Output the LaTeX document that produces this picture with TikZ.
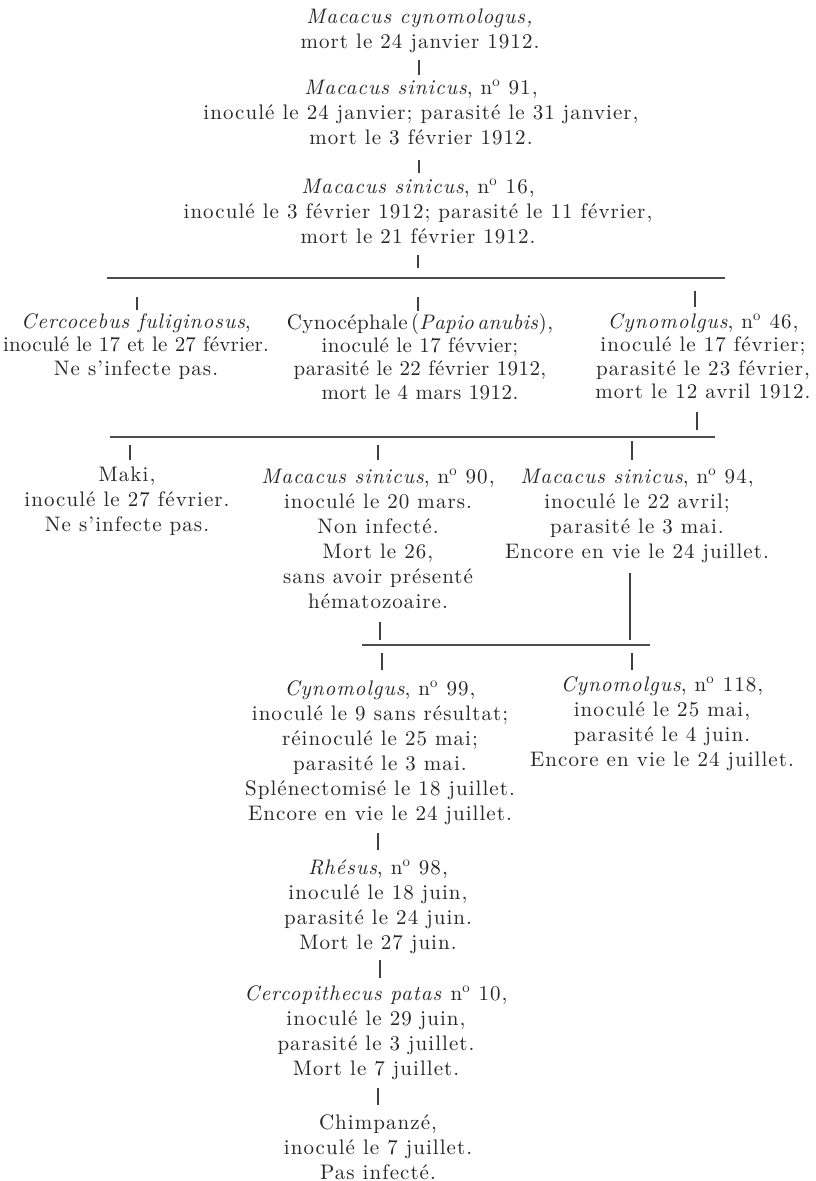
\documentclass[tikz,border=0pt]{standalone}
\usepackage{fontspec}
\setmainfont{lmroman10-regular.otf}[ItalicFont=lmroman10-italic.otf,BoldFont=lmroman10-bold.otf,BoldItalicFont=lmroman10-bolditalic.otf,LetterSpace=5]
\newcommand{\numo}{n\textsuperscript{o}}
\begin{document}
\begin{tikzpicture}[x=0.5pt,y=-0.5pt,
  txt/.style={align=center,inner sep=0pt,anchor=north,text=black!85,font=\fontsize{10.5}{12.5}\selectfont},
  tight/.style={txt,font=\fontsize{10.5}{11.7}\selectfont},
  narrow/.style={txt,font=\fontsize{10.5}{11.7}\selectfont\addfontfeatures{LetterSpace=2}},
  link/.style={draw=black!75,line width=0.7pt},
  rule/.style={draw=black!70,line width=0.6pt}]
\useasboundingbox[fill=white] (0,0) rectangle (815,1181);

% top chain
\node[txt] (a) at (420,9) {\textit{Macacus cynomologus,}\\mort le 24 janvier 1912.};
\node[txt] (b) at (421,80) {\textit{Macacus sinicus}, \numo{} 91,\\inoculé le 24 janvier; parasité le 31 janvier,\\mort le 3 février 1912.};
\node[txt] (c) at (418,179) {\textit{Macacus sinicus}, \numo{} 16,\\inoculé le 3 février 1912; parasité le 11 février,\\mort le 21 février 1912.};
\coordinate (t1a) at (419,60); \coordinate (t1b) at (419,75);
\coordinate (t2a) at (419,160); \coordinate (t2b) at (419,173);
\coordinate (t3a) at (418,255); \coordinate (t3b) at (418,268);
\draw[link] (t1a) -- (t1b);
\draw[link] (t2a) -- (t2b);
\draw[link] (t3a) -- (t3b);

% first branching
\coordinate (r1l) at (107,278); \coordinate (r1r) at (725,278);
\draw[rule] (r1l) -- (r1r);
\coordinate (u1a) at (137,297); \coordinate (u1b) at (137,310);
\coordinate (u2a) at (418,297); \coordinate (u2b) at (418,311);
\coordinate (u3a) at (695,291); \coordinate (u3b) at (695,307);
\draw[link] (u1a) -- (u1b);
\draw[link] (u2a) -- (u2b);
\draw[link] (u3a) -- (u3b);
\node[tight] (d) at (136,313) {\textit{Cercocebus fuliginosus},\\{\addfontfeatures{LetterSpace=1}inoculé le 17 et le 27 février.}\\Ne s’infecte pas.};
\node[narrow] (e) at (420,313) {Cynocéphale\,(\textit{Papio\,anubis}),\\inoculé le 17 févvier;\\parasité le 22 février 1912,\\mort le 4 mars 1912.};
\node[tight] (f) at (703,313) {\textit{Cynomolgus}, \numo{} 46,\\inoculé le 17 février;\\parasité le 23 février,\\mort le 12 avril 1912.};
\coordinate (v1a) at (697,412); \coordinate (v1b) at (697,430);
\draw[link] (v1a) -- (v1b);

% second branching
\coordinate (r2l) at (110,437); \coordinate (r2r) at (715,437);
\draw[rule] (r2l) -- (r2r);
\coordinate (w1a) at (130,445); \coordinate (w1b) at (130,460);
\coordinate (w2a) at (378,445); \coordinate (w2b) at (378,460);
\coordinate (w3a) at (632,441); \coordinate (w3b) at (632,460);
\draw[link] (w1a) -- (w1b);
\draw[link] (w2a) -- (w2b);
\draw[link] (w3a) -- (w3b);
\node[txt] (g) at (127,467) {Maki,\\inoculé le 27 février.\\Ne s’infecte pas.};
\node[txt] (h) at (378,469) {\textit{Macacus sinicus}, \numo{} 90,\\inoculé le 20 mars.\\Non infecté.\\Mort le 26,\\sans avoir présenté\\hématozoaire.};
\node[txt] (i) at (637,469) {\textit{Macacus sinicus}, \numo{} 94,\\inoculé le 22 avril;\\parasité le 3 mai.\\Encore en vie le 24 juillet.};
\coordinate (x1a) at (380,622); \coordinate (x1b) at (380,640);
\coordinate (x2a) at (630,573); \coordinate (x2b) at (630,640);
\draw[link] (x1a) -- (x1b);
\draw[link] (x2a) -- (x2b);

% third branching
\coordinate (r3l) at (362,645); \coordinate (r3r) at (650,645);
\draw[rule] (r3l) -- (r3r);
\coordinate (y1a) at (382,653); \coordinate (y1b) at (382,670);
\coordinate (y2a) at (632,653); \coordinate (y2b) at (632,670);
\draw[link] (y1a) -- (y1b);
\draw[link] (y2a) -- (y2b);
\node[txt] (j) at (380,680) {\textit{Cynomolgus}, \numo{} 99,\\inoculé le 9 sans résultat;\\réinoculé le 25 mai;\\parasité le 3 mai.\\Splénectomisé le 18 juillet.\\Encore en vie le 24 juillet.};
\node[txt] (k) at (662,676) {\textit{Cynomolgus}, \numo{} 118,\\inoculé le 25 mai,\\parasité le 4 juin.\\Encore en vie le 24 juillet.};

% lower chain
\coordinate (z1a) at (378,833); \coordinate (z1b) at (378,850);
\draw[link] (z1a) -- (z1b);
\node[txt] (l) at (378,859) {\textit{Rhésus}, \numo{} 98,\\inoculé le 18 juin,\\parasité le 24 juin.\\Mort le 27 juin.};
\coordinate (z2a) at (380,960); \coordinate (z2b) at (380,978);
\draw[link] (z2a) -- (z2b);
\node[txt] (m) at (376,985) {\textit{Cercopithecus patas} \numo{} 10,\\inoculé le 29 juin,\\parasité le 3 juillet.\\Mort le 7 juillet.};
\coordinate (z3a) at (378,1088); \coordinate (z3b) at (378,1105);
\draw[link] (z3a) -- (z3b);
\node[txt] (n) at (378,1114) {Chimpanzé,\\inoculé le 7 juillet.\\Pas infecté.};
\end{tikzpicture}
\end{document}
